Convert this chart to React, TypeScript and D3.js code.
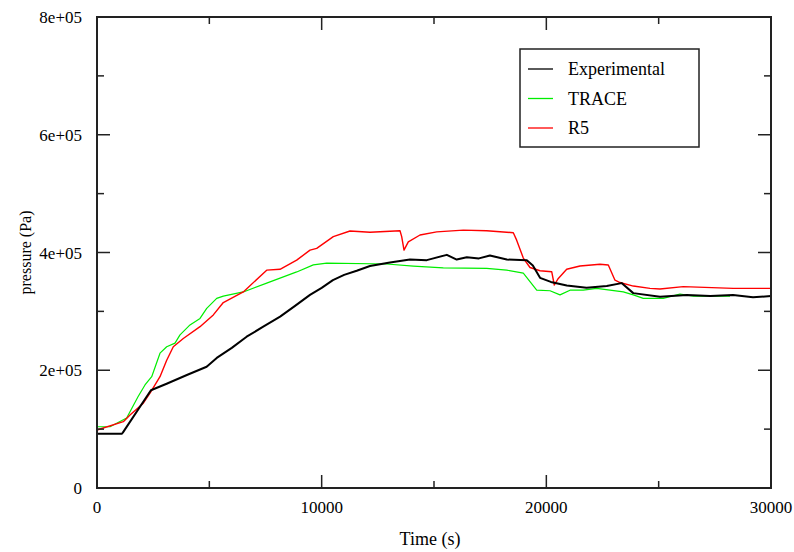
import React from "react";
import * as d3 from "d3";

const expT = [0, 1100, 1150, 2400, 3100, 4000, 4880, 5330, 6000, 6660, 7400, 8150, 8800, 9480, 10000, 10500, 11000, 11560, 12150, 13040, 13930, 14680, 15570, 16010, 16460, 17000, 17490, 18240, 19130, 19400, 19720, 20200, 20910, 21790, 22690, 23350, 23870, 25060, 26250, 27300, 28310, 29200, 30000];
const expP = [92000, 92000, 94000, 166000, 177000, 192000, 206000, 221000, 238000, 257000, 274000, 291000, 309000, 328000, 340000, 353000, 362000, 369000, 377000, 383000, 388000, 387000, 396000, 388000, 392000, 390000, 395000, 388000, 387000, 378000, 357000, 350000, 344000, 340000, 343000, 348000, 331000, 325000, 328000, 326000, 328000, 324000, 326000];

const traceT = [0, 580, 1320, 1825, 2136, 2435, 2804, 3102, 3472, 3694, 4139, 4585, 4883, 5328, 5622, 6512, 7553, 8888, 9628, 10224, 12895, 14079, 15414, 17346, 18236, 18975, 19571, 20164, 20608, 21053, 21645, 22238, 22834, 23426, 23871, 24316, 25206, 25949, 26542, 28175];
const traceP = [104000, 104000, 119000, 155000, 175000, 189000, 229000, 240000, 246000, 260000, 277000, 288000, 305000, 322000, 326000, 333000, 348000, 367000, 379000, 382000, 380500, 377000, 374000, 373000, 370000, 365000, 336000, 335000, 328000, 336000, 336000, 339000, 336000, 333000, 328000, 322000, 322000, 329500, 326000, 326000];

const r5T = [0, 1171, 1469, 2061, 2359, 2804, 3102, 3396, 3841, 4585, 5177, 5622, 6512, 7553, 8145, 8888, 9481, 9779, 10518, 11261, 12151, 13487, 13562, 13665, 13856, 14377, 15120, 16304, 17346, 18530, 18679, 18975, 19273, 19718, 20239, 20355, 20533, 20906, 21498, 22389, 22758, 23056, 23279, 23871, 24614, 25059, 26096, 28322, 30000];
const r5P = [98500, 112600, 124000, 144000, 161000, 189000, 217000, 240000, 254000, 274000, 294000, 315000, 333000, 370000, 371500, 387000, 404000, 407000, 427000, 436500, 434300, 437000, 427000, 404000, 418000, 429700, 435000, 438000, 437000, 433600, 421000, 390600, 374500, 369000, 367400, 344800, 356000, 371500, 377000, 380000, 378800, 353000, 349000, 343000, 339000, 338000, 342000, 339000, 339000];

const seriesNames = ["Experimental", "TRACE", "R5"];
const seriesColors = ["#000000", "#00ee00", "#ff0000"];

const xMajor = [0, 10000, 20000, 30000];
const xMinor = [5000, 15000, 25000];
const yMajor = [0, 200000, 400000, 600000, 800000];
const yMinor = [100000, 300000, 500000, 700000];
const yLabels = ["0", "2e+05", "4e+05", "6e+05", "8e+05"];

export default function App() {
  const W = 794, H = 552;
  const L = 97, R = 771, T = 17, B = 488;
  const x = d3.scaleLinear().domain([0, 30000]).range([L, R]);
  const y = d3.scaleLinear().domain([0, 800000]).range([B, T]);
  const line = d3.line<[number, number]>().x(d => x(d[0])).y(d => y(d[1]));
  const series = [
    expT.map((t, i) => [t, expP[i]] as [number, number]),
    traceT.map((t, i) => [t, traceP[i]] as [number, number]),
    r5T.map((t, i) => [t, r5P[i]] as [number, number]),
  ];
  const widths = [2, 1.2, 1.4];
  const font = "'Liberation Serif', 'Times New Roman', serif";
  const axisColor = "#222";
  return (
    <svg width={W} height={H} style={{ position: "absolute", left: 0, top: 0, background: "#fff" }}>
      <rect x={0} y={0} width={W} height={H} fill="#fff" />
      {[1, 2, 0].map(i => (
        <path key={i} d={line(series[i]) || ""} fill="none" stroke={seriesColors[i]} strokeWidth={widths[i]} strokeLinejoin="round" />
      ))}
      <rect x={L} y={T} width={R - L} height={B - T} fill="none" stroke={axisColor} strokeWidth={2} />
      {xMajor.map(v => (
        <g key={"xM" + v}>
          <line x1={x(v)} x2={x(v)} y1={B} y2={B - 13} stroke={axisColor} strokeWidth={1.5} />
          <line x1={x(v)} x2={x(v)} y1={T} y2={T + 13} stroke={axisColor} strokeWidth={1.5} />
          <text x={x(v)} y={B + 25} textAnchor="middle" fontFamily={font} fontSize={17} fill="#000">{v}</text>
        </g>
      ))}
      {xMinor.map(v => (
        <g key={"xm" + v}>
          <line x1={x(v)} x2={x(v)} y1={B} y2={B - 7} stroke={axisColor} strokeWidth={1.5} />
          <line x1={x(v)} x2={x(v)} y1={T} y2={T + 7} stroke={axisColor} strokeWidth={1.5} />
        </g>
      ))}
      {yMajor.map((v, i) => (
        <g key={"yM" + v}>
          <line x1={L} x2={L + 13} y1={y(v)} y2={y(v)} stroke={axisColor} strokeWidth={1.5} />
          <line x1={R} x2={R - 13} y1={y(v)} y2={y(v)} stroke={axisColor} strokeWidth={1.5} />
          <text x={82} y={y(v) + 6} textAnchor="end" fontFamily={font} fontSize={17} fill="#000">{yLabels[i]}</text>
        </g>
      ))}
      {yMinor.map(v => (
        <g key={"ym" + v}>
          <line x1={L} x2={L + 7} y1={y(v)} y2={y(v)} stroke={axisColor} strokeWidth={1.5} />
          <line x1={R} x2={R - 7} y1={y(v)} y2={y(v)} stroke={axisColor} strokeWidth={1.5} />
        </g>
      ))}
      <text x={430} y={545} textAnchor="middle" fontFamily={font} fontSize={18} fill="#000">Time (s)</text>
      <text transform={`translate(31, ${(T + B) / 2}) rotate(-90)`} textAnchor="middle" fontFamily={font} fontSize={16} fill="#000">pressure (Pa)</text>
      <rect x={520} y={49} width={179} height={98} fill="#fff" stroke={axisColor} strokeWidth={1.5} />
      {seriesNames.map((n, i) => (
        <g key={n}>
          <line x1={528} x2={553} y1={69 + i * 29.5} y2={69 + i * 29.5} stroke={seriesColors[i]} strokeWidth={1.3} />
          <text x={568} y={69 + i * 29.5 + 6} fontFamily={font} fontSize={18} fill="#000">{n}</text>
        </g>
      ))}
    </svg>
  );
}
